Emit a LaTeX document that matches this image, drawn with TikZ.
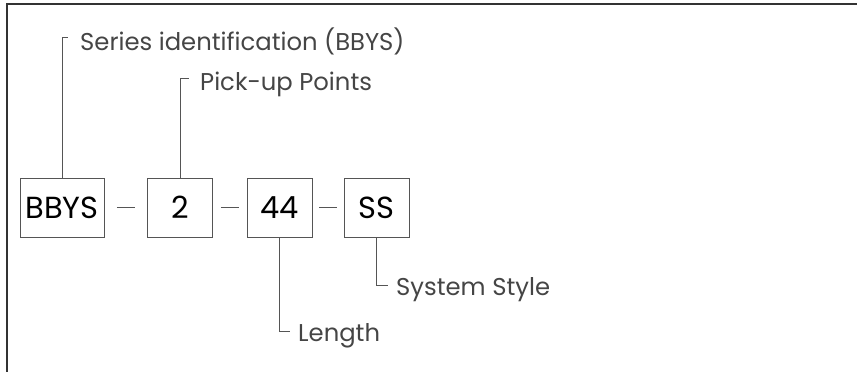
\documentclass[tikz,border=0pt]{standalone}
\usepackage{fontspec}
\setmainfont{Poppins}
\usepackage{tikz}
\usetikzlibrary{calc}
\definecolor{linegray}{HTML}{555555}
\definecolor{textgray}{HTML}{454545}

\begin{document}
\begin{tikzpicture}[x=1pt,y=-1pt]
			\tikzstyle{PartBox}  = [draw=linegray, line width=0.9pt, minimum height=59pt, inner sep=0pt, font=\fontsize{30.5}{33}\selectfont]
			\tikzstyle{Leader}   = [draw=linegray, line width=0.9pt]
			\tikzstyle{PartText} = [anchor=base west, inner sep=0pt, text=textgray, font=\fontsize{24.3}{27}\selectfont]
			\useasboundingbox (0,0) rectangle (857,372);
			% frame (top and left edge only)
			\draw[line width=2pt, color=black!80] (857,4) -- (7,4) -- (7,372);
			
			\node[PartBox, minimum width=84pt] (bbys) at (62,207.5) {BBYS};
			\node[PartBox, minimum width=65pt] (pts)  at (180,207.5) {2};
			\node[PartBox, minimum width=65pt] (len)  at (279.5,207.5) {44};
			\node[PartBox, minimum width=65pt] (sty)  at (376.5,207.5) {SS};
			
			\foreach \a/\b in {bbys/pts, pts/len, len/sty}
				\draw[Leader] ($(\a.east)!0.5!(\b.west)+(-9,0)$) -- ($(\a.east)!0.5!(\b.west)+(9,0)$);
			
			\node[PartText] (serieslbl) at (80,50) {Series identification (BBYS)};
			\node[PartText] (ptslbl)    at (200,90) {Pick-up Points};
			\node[PartText] (stylbl)    at (396,295) {System Style};
			\node[PartText] (lenlbl)    at (298,341.5) {Length};
			
			\coordinate (seriestip) at (68,37);
			\coordinate (ptstip)    at (189,78);
			\coordinate (stytip)    at (388,285);
			\coordinate (lentip)    at (290,331.5);
			
			\draw[Leader] (bbys.north) |- (seriestip);
			\draw[Leader] (pts.north)  |- (ptstip);
			\draw[Leader] (sty.south)  |- (stytip);
			\draw[Leader] (len.south)  |- (lentip);
			
		\end{tikzpicture}
\end{document}
